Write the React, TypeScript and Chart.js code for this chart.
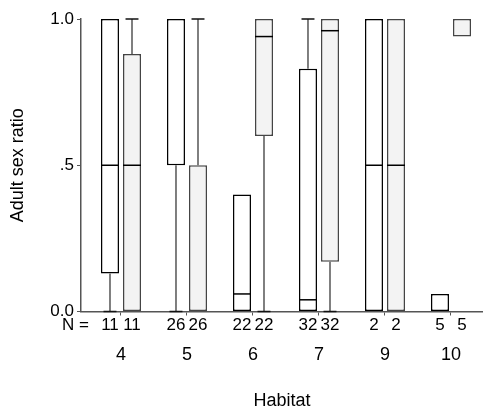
import React, { useEffect, useRef } from 'react';
import { Chart, registerables } from 'chart.js';

Chart.register(...registerables);

// Habitat categories and sample sizes
const habitats = ['4', '5', '6', '7', '9', '10'];
const nPrefix = 'N =';
const nWhite = [11, 26, 22, 32, 2, 5];
const nGray = [11, 26, 22, 32, 2, 5];

// Five-number summaries, white boxes
const whiteMin = [0, 0, 0, 0, 0, 0];
const whiteQ1 = [0.13, 0.5, 0, 0, 0, 0];
const whiteMedian = [0.5, 0.5, 0.06, 0.04, 0.5, 0];
const whiteQ3 = [1, 1, 0.4, 0.83, 1, 0.06];
const whiteMax = [1, 1, 0.4, 1, 1, 0.06];

// Five-number summaries, grey boxes
const grayMin = [0, 0, 0, 0, 0, 0.94];
const grayQ1 = [0, 0, 0.6, 0.17, 0, 0.94];
const grayMedian = [0.5, 0.5, 0.94, 0.96, 0.5, 1];
const grayQ3 = [0.88, 0.5, 1, 1, 1, 1];
const grayMax = [1, 1, 1, 1, 1, 1];

const yTickValues = [0, 0.5, 1];
const yTickLabels = ['0.0', '.5', '1.0'];

const FONT = "'Liberation Sans', Arial, Helvetica, sans-serif";

const summaries = [
  { min: whiteMin, q1: whiteQ1, med: whiteMedian, q3: whiteQ3, max: whiteMax, n: nWhite },
  { min: grayMin, q1: grayQ1, med: grayMedian, q3: grayQ3, max: grayMax, n: nGray },
];

const boxDecor = {
  id: 'boxDecor',
  afterDatasetsDraw(chart: any) {
    const ctx = chart.ctx as CanvasRenderingContext2D;
    const ys = chart.scales.y;
    const area = chart.chartArea;
    ctx.save();
    summaries.forEach((s, di) => {
      const meta = chart.getDatasetMeta(di);
      meta.data.forEach((bar: any, i: number) => {
        const { x, width } = bar.getProps(['x', 'width'], true);
        const half = width / 2;
        const cap = width * 0.36;
        ctx.lineWidth = 1.5;
        // upper whisker
        if (s.max[i] > s.q3[i]) {
          ctx.strokeStyle = '#555';
          ctx.beginPath();
          ctx.moveTo(x, ys.getPixelForValue(s.q3[i]));
          ctx.lineTo(x, ys.getPixelForValue(s.max[i]));
          ctx.stroke();
          ctx.strokeStyle = '#111';
          ctx.beginPath();
          ctx.moveTo(x - cap, ys.getPixelForValue(s.max[i]));
          ctx.lineTo(x + cap, ys.getPixelForValue(s.max[i]));
          ctx.stroke();
        }
        // lower whisker
        if (s.min[i] < s.q1[i]) {
          ctx.strokeStyle = '#555';
          ctx.beginPath();
          ctx.moveTo(x, ys.getPixelForValue(s.q1[i]));
          ctx.lineTo(x, ys.getPixelForValue(s.min[i]));
          ctx.stroke();
          ctx.strokeStyle = '#111';
          ctx.beginPath();
          ctx.moveTo(x - cap, ys.getPixelForValue(s.min[i]));
          ctx.lineTo(x + cap, ys.getPixelForValue(s.min[i]));
          ctx.stroke();
        }
        // median (when it coincides with a box edge, the edge itself shows it)
        if (s.med[i] > s.q1[i] && s.med[i] < s.q3[i]) {
          ctx.strokeStyle = '#000';
          ctx.beginPath();
          ctx.moveTo(x - half, ys.getPixelForValue(s.med[i]));
          ctx.lineTo(x + half, ys.getPixelForValue(s.med[i]));
          ctx.stroke();
        }
        // N label
        ctx.fillStyle = '#000';
        ctx.font = `17px ${FONT}`;
        ctx.textAlign = 'center';
        ctx.textBaseline = 'middle';
        ctx.fillText(String(s.n[i]), x, area.bottom + 14);
      });
    });
    ctx.textAlign = 'right';
    ctx.fillText(nPrefix, area.left + 8, area.bottom + 14);
    ctx.restore();
  },
};

export default function App() {
  const ref = useRef<HTMLCanvasElement | null>(null);

  useEffect(() => {
    if (!ref.current) return;
    const chart = new Chart(ref.current, {
      type: 'bar',
      data: {
        datasets: [
          {
            label: 'white',
            data: habitats.map((_, i) => ({ x: i, y: [whiteQ1[i], whiteQ3[i]] })) as any,
            backgroundColor: '#ffffff',
            borderColor: '#000000',
            borderWidth: 1.5,
            borderSkipped: false,
            categoryPercentage: 0.667,
            barPercentage: 0.818,
          },
          {
            label: 'grey',
            data: habitats.map((_, i) => ({ x: i, y: [grayQ1[i], grayQ3[i]] })) as any,
            backgroundColor: '#f3f3f3',
            borderColor: '#444444',
            borderWidth: 1.5,
            borderSkipped: false,
            categoryPercentage: 0.667,
            barPercentage: 0.818,
          },
        ],
      },
      options: {
        responsive: false,
        animation: false,
        layout: { padding: { top: 19, right: 0, bottom: 0, left: 0 } },
        font: { family: FONT },
        plugins: { legend: { display: false }, tooltip: { enabled: false } },
        scales: {
          x: {
            type: 'linear',
            offset: false,
            min: -0.606,
            max: 5.485,
            afterBuildTicks: (s: any) => {
              s.ticks = habitats.map((_, i) => ({ value: i }));
            },
            afterFit: (s: any) => {
              s.height = 100.5;
              s.paddingLeft = 0;
              s.paddingRight = 0;
            },
            ticks: {
              callback: (v: any) => habitats[v] ?? '',
              padding: 28.7,
              autoSkip: false,
              maxRotation: 0,
              color: '#000',
              font: { family: FONT, size: 18 },
            },
            grid: { display: true, offset: false, drawOnChartArea: false, drawTicks: true, tickLength: 4, color: '#555' },
            border: { display: true, color: '#555', width: 1.5 },
            title: {
              display: true,
              text: 'Habitat',
              color: '#000',
              font: { family: FONT, size: 18 },
              padding: { top: 0, bottom: 0 },
            },
          },
          y: {
            min: 0,
            max: 1,
            afterBuildTicks: (s: any) => {
              s.ticks = yTickValues.map((v) => ({ value: v }));
            },
            afterFit: (s: any) => {
              s.width = 81;
            },
            ticks: {
              callback: (_v: any, i: number) => yTickLabels[i],
              padding: 3,
              color: '#000',
              font: { family: FONT, size: 17 },
            },
            grid: { display: true, drawOnChartArea: false, drawTicks: true, tickLength: 4, color: '#555' },
            border: { display: true, color: '#555', width: 1.5 },
            title: {
              display: true,
              text: 'Adult sex ratio',
              color: '#000',
              font: { family: FONT, size: 18 },
              padding: { top: 7, bottom: 0 },
            },
          },
        },
      } as any,
      plugins: [boxDecor],
    });
    return () => chart.destroy();
  }, []);

  return (
    <div style={{ position: 'fixed', left: 0, top: 0, width: 483, height: 412, background: '#fff' }}>
      <canvas ref={ref} width={483} height={412} style={{ display: 'block' }} />
    </div>
  );
}
